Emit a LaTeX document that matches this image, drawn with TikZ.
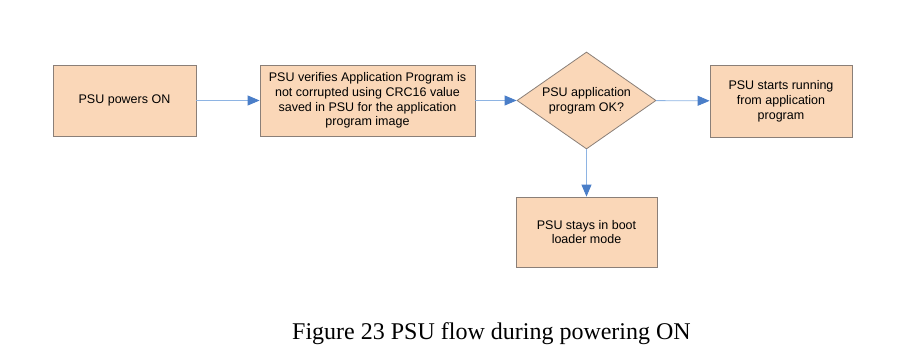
\documentclass[tikz,border=0pt]{standalone}
\usepackage{fontspec}
\setmainfont{Liberation Sans}
\newfontfamily\capfont{Liberation Serif}
\usetikzlibrary{shapes.geometric,arrows.meta}
\definecolor{boxfill}{HTML}{FAD7B8}
\definecolor{boxline}{HTML}{8A7F78}
\definecolor{arrline}{HTML}{8EB4E3}
\definecolor{arrhead}{HTML}{4A7EC8}
\begin{document}
\begin{tikzpicture}[x=1pt,y=1pt,
  procbox/.style={draw=boxline, fill=boxfill, line width=0.8pt, inner sep=0pt,
    font=\fontsize{12.5}{14.8}\selectfont, align=center},
  decbox/.style={diamond, draw=boxline, fill=boxfill, line width=0.8pt, inner sep=0pt,
    minimum width=139pt, minimum height=97pt},
  flow/.style={draw=arrline, line width=0.9pt,
    -{Triangle[length=12pt,width=10pt,fill=arrhead,color=arrhead]}}
]
\useasboundingbox (0,0) rectangle (924,-358);
\node[procbox, minimum width=143pt, minimum height=71pt] (a) at (124.5,-100.5) {PSU powers ON};
\node[procbox, minimum width=215pt, minimum height=71pt] (b) at (367.5,-100.5)
  {PSU verifies Application Program is\\not corrupted using CRC16 value\\saved in PSU for the application\\program image};
\node[decbox] (c) at (586.5,-100.5) {};
\node[font=\fontsize{12.5}{14.8}\selectfont, align=center] (ct) at (c.center) {PSU application\\program OK?};
\node[procbox, minimum width=142pt, minimum height=72pt] (d) at (781,-101)
  {PSU starts running\\from application\\program};
\node[procbox, minimum width=141pt, minimum height=70pt] (e) at (586.5,-232)
  {PSU stays in boot\\loader mode};
\draw[flow] (a) -- (b);
\draw[flow] (b) -- (c);
\draw[flow] (c) -- (d);
\draw[flow] (c) -- (e);
\node[font=\capfont\fontsize{24}{28}\selectfont] (cap) at (491.5,-334) {Figure 23 PSU flow during powering ON};
\end{tikzpicture}
\end{document}
